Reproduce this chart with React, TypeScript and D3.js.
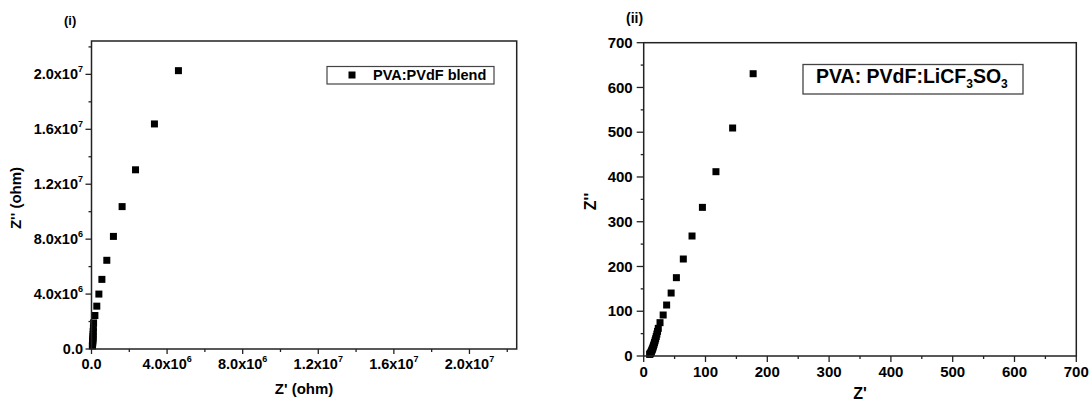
import React from "react";
import * as d3 from "d3";

// ---------- Data ----------
// Panel (i): PVA:PVdF blend (ohm)
const blendZre: number[] = [4.60e6, 3.33e6, 2.33e6, 1.62e6, 1.16e6, 0.81e6, 0.55e6, 0.39e6, 0.28e6, 0.18e6, 0.11e6,
  0.10e6, 0.09e6, 0.085e6, 0.08e6, 0.075e6, 0.07e6, 0.065e6, 0.06e6, 0.057e6, 0.054e6, 0.05e6, 0.047e6];
const blendZim: number[] = [20.27e6, 16.39e6, 13.05e6, 10.37e6, 8.20e6, 6.46e6, 5.07e6, 4.0e6, 3.12e6, 2.44e6, 1.90e6,
  1.55e6, 1.28e6, 1.07e6, 0.90e6, 0.76e6, 0.64e6, 0.54e6, 0.46e6, 0.39e6, 0.33e6, 0.28e6, 0.22e6];

// Panel (ii): PVA:PVdF:LiCF3SO3
const saltZre: number[] = [177.1, 143.9, 116.9, 95.0, 78.2, 64.1, 52.9, 44.4, 37.1, 31.5, 26.4,
  23.6, 22.4, 21.3, 20.3, 19.3, 18.4, 17.5, 16.7, 15.9, 15.2, 14.5, 13.8, 13.2, 12.6, 12.0, 11.4, 10.8, 10.2, 9.7];
const saltZim: number[] = [630.7, 509.4, 411.8, 332.1, 268.1, 216.7, 175.0, 140.7, 113.9, 91.6, 74.5,
  61.8, 55.0, 49.0, 43.5, 38.5, 34.0, 30.0, 26.3, 23.0, 20.0, 17.3, 14.8, 12.6, 10.6, 8.8, 7.2, 5.8, 4.6, 3.6];

// Tick values / labels
const blendMajor: number[] = [0, 4e6, 8e6, 12e6, 16e6, 20e6];
const blendMajorMant: string[] = ["0.0", "4.0x10", "8.0x10", "1.2x10", "1.6x10", "2.0x10"];
const blendMajorExp: string[] = ["", "6", "6", "7", "7", "7"];
const blendMinor: number[] = [2e6, 6e6, 10e6, 14e6, 18e6, 22e6];

const saltMajor: number[] = [0, 100, 200, 300, 400, 500, 600, 700];
const saltMinor: number[] = [50, 150, 250, 350, 450, 550, 650];

const FONT = "'Liberation Sans', Arial, Helvetica, sans-serif";
const AXIS = "#222";

function Square({ x, y, s = 7 }: { x: number; y: number; s?: number }) {
  return <rect x={x - s / 2} y={y - s / 2} width={s} height={s} fill="#000" />;
}

function PanelI() {
  const L = 91.5, R = 516.7, T = 41, B = 349;
  const x = d3.scaleLinear().domain([0, 2.25e7]).range([L, R]);
  const y = d3.scaleLinear().domain([0, 2.243e7]).range([B, T]);
  const pts = blendZre.map((v, i) => [v, blendZim[i]]);
  return (
    <g fontFamily={FONT} fontWeight="bold" fill="#000">
      <text x={64} y={24.5} fontSize={13}>(i)</text>
      {pts.slice().reverse().map((p, i) => (
        <Square key={i} x={x(p[0])} y={y(p[1])} />
      ))}
      <rect x={L} y={T} width={R - L} height={B - T} fill="none" stroke={AXIS} strokeWidth={1.5} />
      {blendMajor.map((v, i) => (
        <g key={"xm" + i}>
          <line x1={x(v)} x2={x(v)} y1={B} y2={B + 5} stroke={AXIS} strokeWidth={1.3} />
          <text x={x(v)} y={B + 20} fontSize={14.5} textAnchor="middle">
            {blendMajorMant[i]}
            {blendMajorExp[i] && <tspan fontSize={9} dy={-7}>{blendMajorExp[i]}</tspan>}
          </text>
        </g>
      ))}
      {blendMinor.map((v, i) => (
        <line key={"xn" + i} x1={x(v)} x2={x(v)} y1={B} y2={B + 3} stroke={AXIS} strokeWidth={1.3} />
      ))}
      {blendMajor.map((v, i) => (
        <g key={"ym" + i}>
          <line x1={L - 6} x2={L} y1={y(v)} y2={y(v)} stroke={AXIS} strokeWidth={1.3} />
          <text x={L - 8.5} y={y(v) + 5} fontSize={14.5} textAnchor="end">
            {blendMajorMant[i]}
            {blendMajorExp[i] && <tspan fontSize={9} dy={-7}>{blendMajorExp[i]}</tspan>}
          </text>
        </g>
      ))}
      {blendMinor.map((v, i) => (
        <line key={"yn" + i} x1={L - 3} x2={L} y1={y(v)} y2={y(v)} stroke={AXIS} strokeWidth={1.3} />
      ))}
      <text x={(L + R) / 2} y={394} fontSize={15} textAnchor="middle">Z' (ohm)</text>
      <text transform={`translate(21,${198}) rotate(-90)`} fontSize={15} textAnchor="middle">Z'' (ohm)</text>
      <rect x={327} y={66.5} width={167} height={17.5} fill="#fff" stroke="#444" strokeWidth={1.2} />
      <Square x={352} y={75} />
      <text x={373} y={80} fontSize={14.5}>PVA:PVdF blend</text>
    </g>
  );
}

function PanelII() {
  const L = 643.7, R = 1076.3, T = 42.7, B = 356;
  const x = d3.scaleLinear().domain([0, 700]).range([L, R]);
  const y = d3.scaleLinear().domain([0, 700]).range([B, T]);
  const pts = saltZre.map((v, i) => [v, saltZim[i]]);
  return (
    <g fontFamily={FONT} fontWeight="bold" fill="#000">
      <text x={626} y={22.5} fontSize={14}>(ii)</text>
      {pts.slice().reverse().map((p, i) => (
        <Square key={i} x={x(p[0])} y={y(p[1])} />
      ))}
      <rect x={L} y={T} width={R - L} height={B - T} fill="none" stroke={AXIS} strokeWidth={1.5} />
      {saltMajor.map((v, i) => (
        <g key={"xm" + i}>
          <line x1={x(v)} x2={x(v)} y1={B} y2={B + 6} stroke={AXIS} strokeWidth={1.3} />
          <text x={x(v)} y={B + 21} fontSize={15} textAnchor="middle">{String(v)}</text>
        </g>
      ))}
      {saltMinor.map((v, i) => (
        <line key={"xn" + i} x1={x(v)} x2={x(v)} y1={B} y2={B + 3} stroke={AXIS} strokeWidth={1.3} />
      ))}
      {saltMajor.map((v, i) => (
        <g key={"ym" + i}>
          <line x1={L - 7} x2={L} y1={y(v)} y2={y(v)} stroke={AXIS} strokeWidth={1.3} />
          <text x={L - 11} y={y(v) + 5.2} fontSize={15} textAnchor="end">{String(v)}</text>
        </g>
      ))}
      {saltMinor.map((v, i) => (
        <line key={"yn" + i} x1={L - 3} x2={L} y1={y(v)} y2={y(v)} stroke={AXIS} strokeWidth={1.3} />
      ))}
      <text x={(L + R) / 2} y={399} fontSize={16} textAnchor="middle">Z'</text>
      <text transform={`translate(596,${201.5}) rotate(-90)`} fontSize={16} textAnchor="middle">Z''</text>
      <rect x={803} y={64.5} width={220} height={29.5} fill="#fff" stroke="#444" strokeWidth={1.3} />
      <text x={816} y={82.5} fontSize={19.5}>
        PVA: PVdF:LiCF<tspan fontSize={12} dy={5}>3</tspan>
        <tspan dy={-5}>SO</tspan>
        <tspan fontSize={12} dy={5}>3</tspan>
      </text>
    </g>
  );
}

export default function App() {
  return (
    <svg width={1090} height={403} style={{ position: "absolute", left: 0, top: 0, background: "#fff" }}>
      <rect width={1090} height={403} fill="#fff" />
      <PanelI />
      <PanelII />
    </svg>
  );
}
